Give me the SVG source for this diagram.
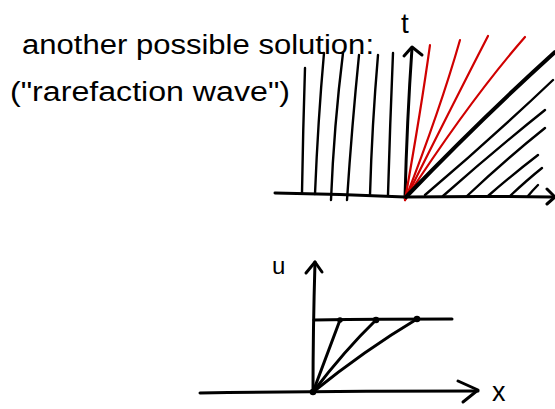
<svg xmlns="http://www.w3.org/2000/svg" width="555" height="409" viewBox="0 0 555 409">
<style>
.ink{fill:none;stroke:#000;stroke-linecap:round;stroke-linejoin:round}
.ax{stroke-width:3}
.thin{stroke-width:2.4}
.thick{stroke-width:4}
.red{fill:none;stroke:#d00000;stroke-width:2.2;stroke-linecap:round}
.txt{font-family:"Liberation Sans","DejaVu Sans",sans-serif;fill:#000}
</style>
<rect width="555" height="409" fill="#fff"/>
<g id="title">
<text class="txt" x="22" y="54" font-size="27" textLength="352" lengthAdjust="spacingAndGlyphs">another possible solution:</text>
<text class="txt" x="10" y="101" font-size="27" textLength="280" lengthAdjust="spacingAndGlyphs">("rarefaction wave")</text>
</g>
<g id="top-plot">
<g id="top-axes">
<path class="ink ax" d="M275 193 Q340 194 405 197 Q480 196 553 197"/>
<path class="ink ax" d="M547 189 L555 197 L547 204"/>
<path class="ink ax" d="M405 198 Q407 120 412 48"/>
<path class="ink ax" d="M404 56 L412 47 L422 55"/>
<text class="txt" x="401" y="33" font-size="28">t</text>
</g>
<g id="left-lines">
<path class="ink thin" d="M302 193 Q303 130 305 68"/>
<path class="ink thin" d="M315 194 Q318 120 324 53"/>
<path class="ink thin" d="M331 200 Q334 125 343 53"/>
<path class="ink thin" d="M347 200 Q352 125 359 55"/>
<path class="ink thin" d="M370 195 Q372 125 378 55"/>
<path class="ink thin" d="M388 195 Q390 125 393 53"/>
</g>
<g id="fan">
<path class="red" d="M405 200 Q421 110 430 45"/>
<path class="red" d="M405 200 Q440 110 460 40"/>
<path class="red" d="M405 200 Q455 100 488 36"/>
<path class="red" d="M405 200 Q470 100 525 37"/>
</g>
<g id="shock-region">
<path class="ink thick" d="M406 197 Q480 120 555 52"/>
<path class="ink thin" d="M425 195 Q490 140 553 80"/>
<path class="ink thin" d="M443 196 Q495 150 545 110"/>
<path class="ink thin" d="M467 196 Q505 160 545 128"/>
<path class="ink thin" d="M488 196 Q512 175 538 155"/>
<path class="ink thin" d="M510 196 Q527 180 542 168"/>
<path class="ink thin" d="M528 196 Q533 190 538 185"/>
</g>
</g>
<g id="bottom-plot">
<g id="bottom-axes">
<path class="ink ax" d="M200 393 Q340 391 478 391"/>
<path class="ink ax" d="M458 381 L478 390 L463 402"/>
<path class="ink ax" d="M313 392 Q313 330 315 262"/>
<path class="ink ax" d="M306 273 L315 262 L322 272"/>
<text class="txt" x="272" y="274" font-size="24">u</text>
<text class="txt" x="492" y="401" font-size="27">x</text>
</g>
<g id="profile">
<path class="ink ax" d="M314 320 Q380 319 452 319"/>
<path class="ink ax" d="M313 392 L340 320"/>
<path class="ink ax" d="M313 392 Q345 350 376 320"/>
<path class="ink ax" d="M313 392 Q365 350 417 319"/>
<circle cx="340" cy="320" r="2.8"/>
<circle cx="376" cy="320" r="3.3"/>
<circle cx="417" cy="319" r="3.3"/>
<circle cx="313" cy="392" r="3.3"/>
</g>
</g>
</svg>
